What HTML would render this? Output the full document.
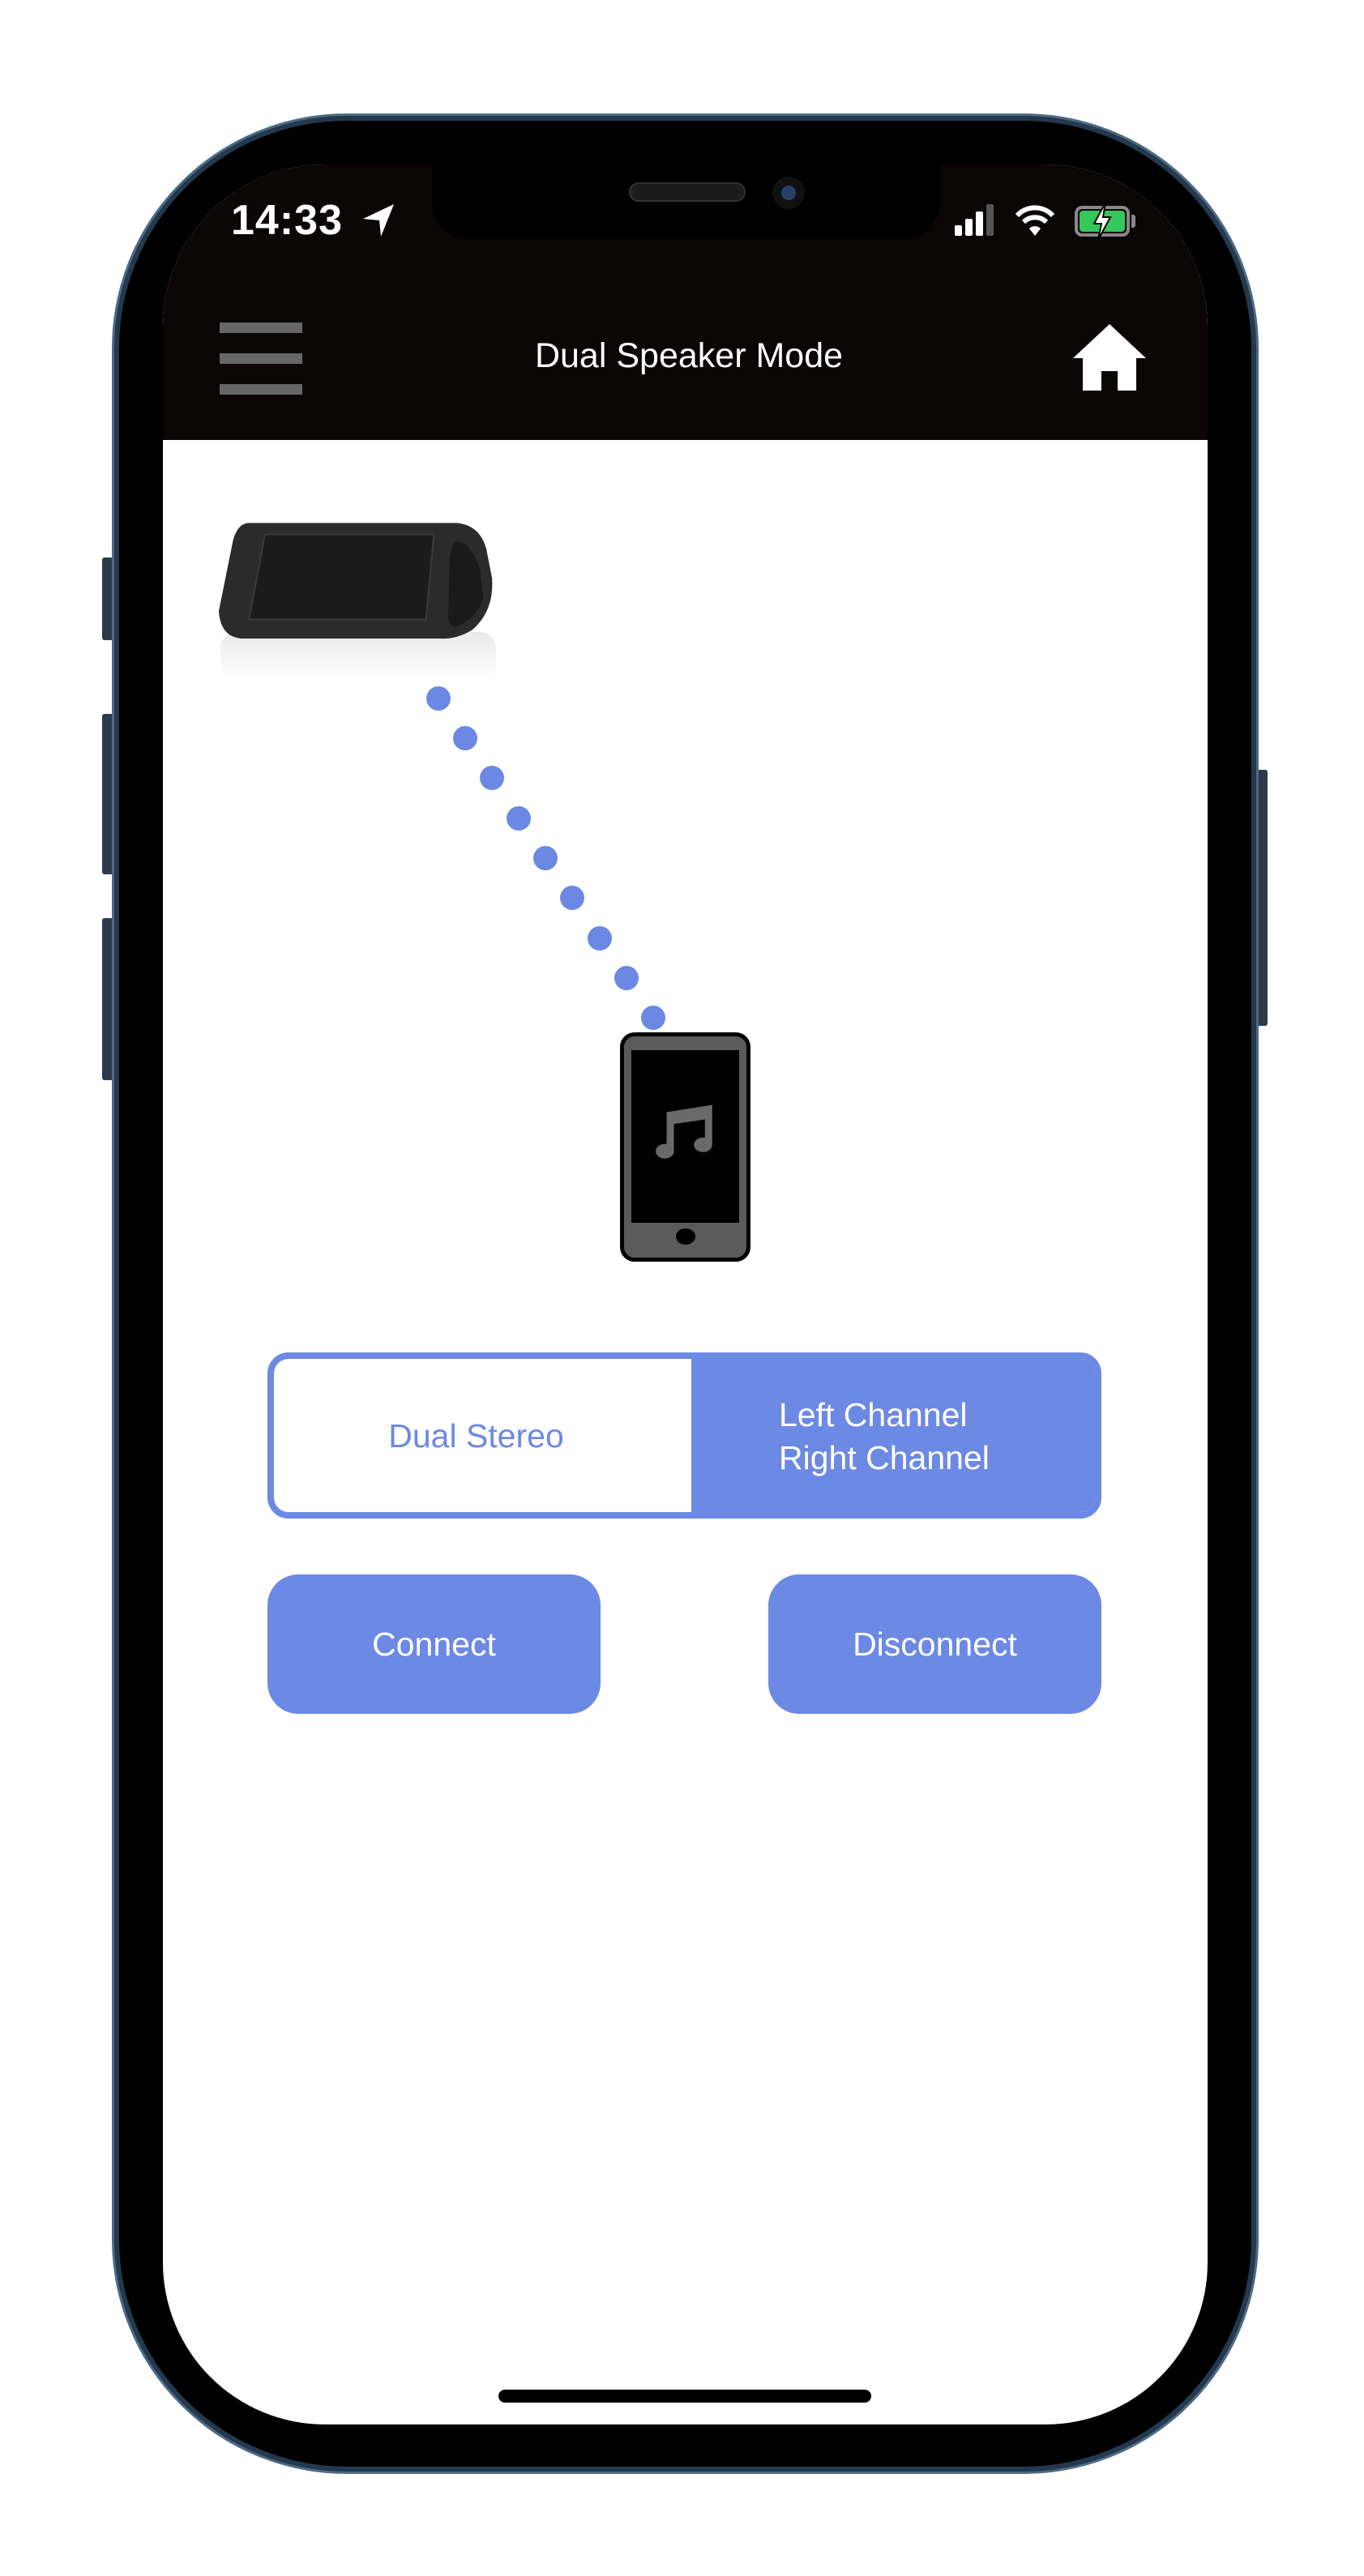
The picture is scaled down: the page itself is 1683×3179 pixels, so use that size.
<!DOCTYPE html>
<html><head><meta charset="utf-8">
<style>
*{margin:0;padding:0;box-sizing:border-box}
body{width:1683px;height:3179px;background:#fff;position:relative;overflow:hidden;font-family:"Liberation Sans",sans-serif}
.abs{position:absolute}
.blue{background:#6c89e3}
</style></head><body>
<!-- side buttons -->
<div class="abs" style="left:126px;top:688px;width:14px;height:102px;background:#2b3b4a;border-radius:3px"></div>
<div class="abs" style="left:126px;top:881px;width:14px;height:198px;background:#2b3b4a;border-radius:3px"></div>
<div class="abs" style="left:126px;top:1133px;width:14px;height:200px;background:#2b3b4a;border-radius:3px"></div>
<div class="abs" style="left:1551px;top:950px;width:13px;height:316px;background:#2b3b4a;border-radius:3px"></div>
<!-- frame -->
<div class="abs" style="left:138px;top:140px;width:1415px;height:2913px;border-radius:290px;background:#24394d;border:3px solid #4d6a85"></div>
<div class="abs" style="left:147px;top:149px;width:1397px;height:2895px;border-radius:281px;background:#000"></div>
<!-- screen -->
<div class="abs" style="left:201px;top:203px;width:1289px;height:2789px;border-radius:200px;background:#fff;overflow:hidden">
  <div class="abs" style="left:0;top:0;width:1289px;height:340px;background:#0a0605"></div>
  <div class="abs" style="left:332px;top:0;width:627px;height:92px;background:#000;border-radius:0 0 45px 45px"></div>
  <div class="abs" style="left:575px;top:22px;width:144px;height:24px;background:#1c1c1c;border-radius:12px;border:2px solid #333"></div>
  <div class="abs" style="left:752px;top:15px;width:40px;height:40px;background:#111;border-radius:50%"></div>
  <div class="abs" style="left:763px;top:26px;width:18px;height:18px;background:#2a3e6a;border-radius:50%"></div>
</div>
<!-- status bar -->
<div class="abs" style="left:285px;top:242px;color:#fff;font-weight:bold;font-size:52px;line-height:60px;letter-spacing:1px">14:33</div>
<svg class="abs" style="left:446px;top:250px" width="44" height="44" viewBox="0 0 44 44"><path d="M40 2 L2 20 L22 22 L24 42 Z" fill="#fff"/></svg>
<div class="abs" style="left:1178px;top:278px;width:9px;height:13px;background:#fff;border-radius:2px"></div>
<div class="abs" style="left:1191px;top:270px;width:9px;height:21px;background:#fff;border-radius:2px"></div>
<div class="abs" style="left:1204px;top:261px;width:9px;height:30px;background:#fff;border-radius:2px"></div>
<div class="abs" style="left:1217px;top:252px;width:9px;height:39px;background:#555;border-radius:2px"></div>
<svg class="abs" style="left:1252px;top:252px" width="50" height="40" viewBox="0 0 50 40"><path d="M3 14 A30 30 0 0 1 47 14" stroke="#fff" stroke-width="6" fill="none"/><path d="M11 22 A20 20 0 0 1 39 22" stroke="#fff" stroke-width="6" fill="none"/><path d="M18 30 L25 39 L32 30 A10 10 0 0 0 18 30Z" fill="#fff"/></svg>
<div class="abs" style="left:1326px;top:254px;width:68px;height:38px;border:4px solid #888;border-radius:9px"></div>
<div class="abs" style="left:1332px;top:260px;width:56px;height:26px;background:#34c759;border-radius:4px"></div>
<div class="abs" style="left:1396px;top:265px;width:5px;height:16px;background:#888;border-radius:0 3px 3px 0"></div>
<svg class="abs" style="left:1346px;top:250px" width="28" height="46" viewBox="0 0 28 46"><path d="M18 0 L4 26 L13 26 L9 46 L24 18 L15 18 Z" fill="#fff" stroke="#000" stroke-width="2"/></svg>
<!-- nav -->
<div class="abs" style="left:271px;top:398px;width:102px;height:13px;background:#666"></div>
<div class="abs" style="left:271px;top:436px;width:102px;height:13px;background:#666"></div>
<div class="abs" style="left:271px;top:474px;width:102px;height:13px;background:#666"></div>
<div class="abs" style="left:500px;top:412px;width:700px;text-align:center;color:#fff;font-size:43px;line-height:54px">Dual Speaker Mode</div>
<svg class="abs" style="left:1322px;top:398px" width="94" height="86" viewBox="0 0 94 86"><path d="M47 2 L92 44 L80 44 L80 84 L57 84 L57 60 L37 60 L37 84 L14 84 L14 44 L2 44 Z" fill="#fff"/></svg>
<!-- speaker -->
<div class="abs" style="left:272px;top:780px;width:340px;height:60px;background:linear-gradient(#e0e0e0,#fff);border-radius:20px;opacity:.7"></div>
<svg class="abs" style="left:268px;top:643px" width="344" height="152" viewBox="0 0 350 130" preserveAspectRatio="none">
<path d="M40 2 L300 2 Q330 4 338 30 L345 60 Q348 95 320 115 Q300 125 280 124 L30 124 Q4 122 2 95 L20 20 Q26 2 40 2Z" fill="#2b2b2b"/>
<path d="M60 14 L272 14 L262 104 L40 104 Z" fill="#1c1c1c" stroke="#3a3a3a" stroke-width="2"/>
<path d="M300 22 Q316 20 330 50 L334 80 Q330 100 300 112 Q290 112 290 100 L292 40 Q294 24 300 22Z" fill="#1a1a1a"/>
</svg>
<!-- dots -->
<svg class="abs" style="left:0;top:0" width="1683" height="1300">
<g fill="#6b88e3">
<circle cx="541" cy="862" r="15"/><circle cx="574" cy="911" r="15"/><circle cx="607" cy="960" r="15"/><circle cx="640" cy="1010" r="15"/><circle cx="673" cy="1059" r="15"/><circle cx="706" cy="1108" r="15"/><circle cx="740" cy="1158" r="15"/><circle cx="773" cy="1207" r="15"/><circle cx="806" cy="1256" r="15"/>
</g></svg>
<!-- phone icon -->
<div class="abs" style="left:765px;top:1274px;width:161px;height:283px;background:#5a5a5a;border:5px solid #000;border-radius:18px"></div>
<div class="abs" style="left:779px;top:1296px;width:133px;height:213px;background:#000"></div>
<div class="abs" style="left:834px;top:1516px;width:24px;height:20px;background:#000;border-radius:50%"></div>
<svg class="abs" style="left:800px;top:1350px" width="90" height="90" viewBox="0 0 80 80"><path d="M20 20 L70 12 L70 56 A10 8 0 1 1 62 48 L62 28 L28 33 L28 62 A10 8 0 1 1 20 55 Z" fill="#6a6a6a"/></svg>
<!-- segment -->
<div class="abs" style="left:330px;top:1669px;width:1029px;height:205px;border:8px solid #6c89e3;border-radius:26px;background:#fff;overflow:hidden">
  <div class="abs blue" style="left:515px;top:-8px;width:520px;height:210px"></div>
</div>
<div class="abs" style="left:330px;top:1746px;width:515px;text-align:center;color:#6c89e3;font-size:41px;line-height:52px">Dual Stereo</div>
<div class="abs" style="left:961px;top:1720px;color:#fff;font-size:41px;line-height:53px">Left Channel<br>Right Channel</div>
<!-- buttons -->
<div class="abs blue" style="left:330px;top:1943px;width:411px;height:172px;border-radius:38px;color:#fff;font-size:41px;line-height:172px;text-align:center">Connect</div>
<div class="abs blue" style="left:948px;top:1943px;width:411px;height:172px;border-radius:38px;color:#fff;font-size:41px;line-height:172px;text-align:center">Disconnect</div>
<!-- home indicator -->
<div class="abs" style="left:615px;top:2949px;width:460px;height:16px;background:#000;border-radius:8px"></div>
</body></html>
